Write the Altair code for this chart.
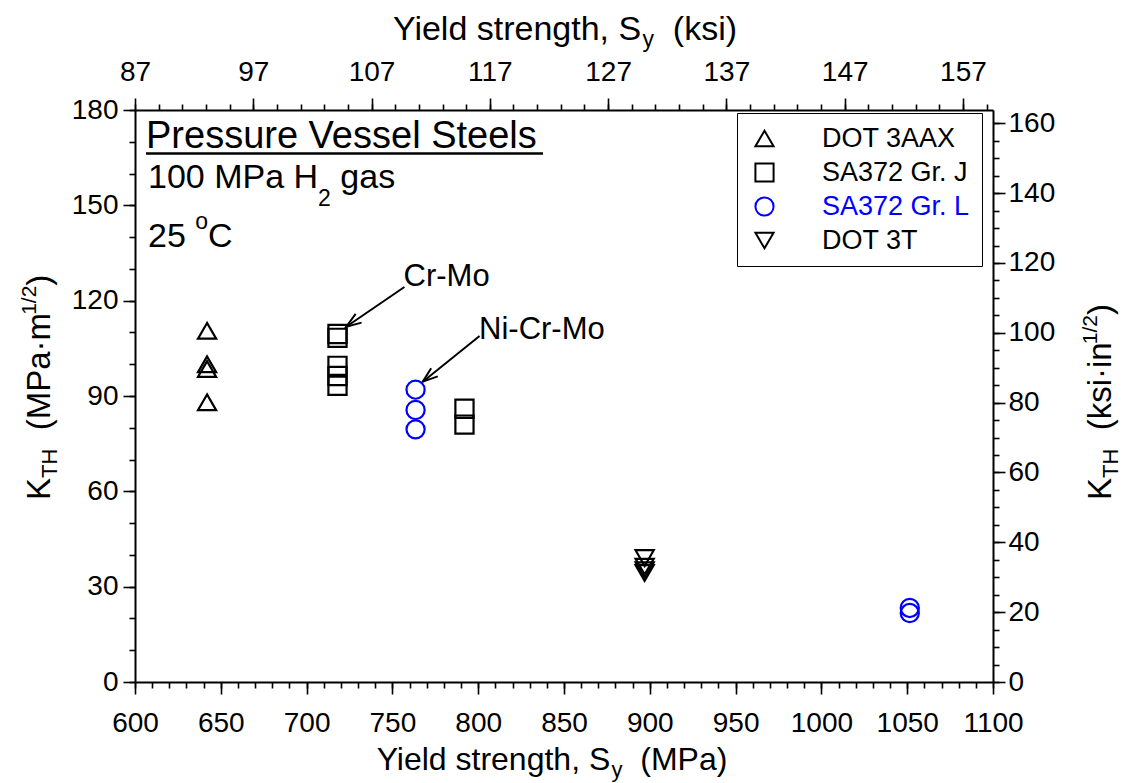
import math
import altair as alt
import pandas as pd

FONT = "Liberation Sans"

# ---------------- data ----------------
materials = ["DOT 3AAX", "SA372 Gr. J", "SA372 Gr. L", "DOT 3T"]

dot3aax_sy = [642, 642, 642, 642]
dot3aax_k = [110.5, 100.0, 98.5, 88.0]

sa372j_sy = [718, 718, 718, 718, 718, 792, 792]
sa372j_k = [109.5, 108.3, 99.5, 96.3, 93.2, 86.0, 81.0]

sa372l_sy = [763.5, 763.5, 763.5, 1051.5, 1051.5]
sa372l_k = [92.0, 85.6, 79.5, 23.3, 21.7]

dot3t_sy = [897, 897, 897, 897]
dot3t_k = [39.0, 36.3, 35.2, 34.3]

# axis tick values
mpa_major = list(range(600, 1101, 50))
mpa_minor = list(range(600, 1101, 10))
ksi_major = list(range(87, 158, 10))
ksi_minor = list(range(87, 160, 2))
kmpa_major = list(range(0, 181, 30))
kmpa_minor = list(range(0, 181, 10))
kksi_major = list(range(0, 161, 20))
kksi_minor = list(range(0, 161, 5))

# annotation arrows (data units): start -> tip
arrow_label = ["Cr-Mo", "Ni-Cr-Mo"]
arrow_x0 = [757.0, 800.8]
arrow_y0 = [124.3, 108.9]
arrow_x1 = [723.1, 767.7]
arrow_y1 = [111.8, 94.5]
label_x = [756.5, 800.5]
label_y = [127.4, 110.8]

KSI_PER_MPA = 1 / 6.894757
KSIIN_PER_MPAM = 1 / 1.098843

# ---------------- layout ----------------
W_PLOT, H_PLOT = 858, 572
PAD = {"left": 135, "top": 110, "right": 1124 - 135 - W_PLOT, "bottom": 783 - 110 - H_PLOT}

X_MPA = alt.Scale(domain=[600, 1100], nice=False, zero=False)
Y_MPA = alt.Scale(domain=[0, 180], nice=False, zero=False)
X_KSI = alt.Scale(domain=[87.0, 1100 * KSI_PER_MPA], nice=False, zero=False)
Y_KSI = alt.Scale(domain=[0, 180 * KSIIN_PER_MPAM], nice=False, zero=False)


def axis(orient, values, size, labels=True, domain=True, pad=5):
    kw = dict(orient=orient, values=values, tickSize=size, labels=labels,
              domain=domain, grid=False, title=None, ticks=True,
              tickColor="black", tickWidth=1.6, domainColor="black", domainWidth=2)
    if labels:
        kw.update(labelFontSize=28, labelFont=FONT, labelColor="black", format="d",
                  labelPadding=pad, labelFlush=False, labelOverlap=False)
    return alt.Axis(**kw)


# ---------------- points ----------------
rows = []
for name, xs, ys in [(materials[0], dot3aax_sy, dot3aax_k),
                     (materials[1], sa372j_sy, sa372j_k),
                     (materials[2], sa372l_sy, sa372l_k),
                     (materials[3], dot3t_sy, dot3t_k)]:
    for a, b in zip(xs, ys):
        rows.append({"Sy": a, "K": b, "mat": name})
pts = pd.DataFrame(rows)

leg = alt.Legend(title=None, orient="none", legendX=602, legendY=3, direction="vertical",
                 strokeColor="black", fillColor="white", padding=12, cornerRadius=0,
                 symbolSize=330, symbolStrokeWidth=2, symbolOffset=2, labelOffset=44,
                 labelFontSize=27, labelFont=FONT,
                 labelColor=alt.ExprRef(expr="datum.value == 'SA372 Gr. L' ? '#0000ff' : 'black'"),
                 rowPadding=6, labelExpr="datum.label + ' '", labelLimit=0)

points = alt.Chart(pts).mark_point(filled=False, size=330, strokeWidth=2.2, opacity=1).encode(
    x=alt.X("Sy:Q", scale=X_MPA, axis=axis("bottom", mpa_major, 12, pad=15)),
    y=alt.Y("K:Q", scale=Y_MPA, axis=axis("left", kmpa_major, 12, pad=5)),
    shape=alt.Shape("mat:N", scale=alt.Scale(domain=materials,
                    range=["triangle-up", "square", "circle", "triangle-down"]), legend=leg),
    color=alt.Color("mat:N", scale=alt.Scale(domain=materials,
                    range=["black", "black", "#0000ff", "black"]), legend=leg),
)


def dummy(vals, **enc):
    return alt.Chart(pd.DataFrame({"v": vals})).mark_point(opacity=0, size=1).encode(**enc)


bottom_minor = dummy(mpa_minor, x=alt.X("v:Q", scale=X_MPA, axis=axis("bottom", mpa_minor, 6, labels=False, domain=False)))
left_minor = dummy(kmpa_minor, y=alt.Y("v:Q", scale=Y_MPA, axis=axis("left", kmpa_minor, 6, labels=False, domain=False)))
top_major = dummy(ksi_major, x=alt.X("v:Q", scale=X_KSI, axis=axis("top", ksi_major, 12, pad=12)))
top_minor = dummy(ksi_minor, x=alt.X("v:Q", scale=X_KSI, axis=axis("top", ksi_minor, 6, labels=False, domain=False)))
right_major = dummy(kksi_major, y=alt.Y("v:Q", scale=Y_KSI, axis=axis("right", kksi_major, 12, pad=3)))
right_minor = dummy(kksi_minor, y=alt.Y("v:Q", scale=Y_KSI, axis=axis("right", kksi_minor, 6, labels=False, domain=False)))

# ---------------- arrows ----------------
pxx = W_PLOT / 500.0
pxy = H_PLOT / 180.0
angs = []
for a0, b0, a1, b1 in zip(arrow_x0, arrow_y0, arrow_x1, arrow_y1):
    dx = (a1 - a0) * pxx
    dy = -(b1 - b0) * pxy
    angs.append(math.degrees(math.atan2(dx, -dy)) % 360)
arr = pd.DataFrame({"lab": arrow_label, "x0": arrow_x0, "y0": arrow_y0,
                    "x1": arrow_x1, "y1": arrow_y1, "ang": angs,
                    "lx": label_x, "ly": label_y})

ax_none = dict(axis=None)
arrow_lines = alt.Chart(arr).mark_rule(color="black", strokeWidth=2).encode(
    x=alt.X("x0:Q", scale=X_MPA, **ax_none), y=alt.Y("y0:Q", scale=Y_MPA, **ax_none),
    x2="x1:Q", y2="y1:Q")
arrow_heads = alt.Chart(arr).mark_point(shape="M-0.7,2L0,0L0.7,2", filled=False, size=225,
                                        strokeWidth=2, color="black", opacity=1).encode(
    x=alt.X("x1:Q", scale=X_MPA, **ax_none), y=alt.Y("y1:Q", scale=Y_MPA, **ax_none),
    angle=alt.Angle("ang:Q", scale=None))
arrow_text = alt.Chart(arr).mark_text(align="left", baseline="middle", font=FONT, fontSize=31,
                                      color="black").encode(
    x=alt.X("lx:Q", scale=X_MPA, **ax_none), y=alt.Y("ly:Q", scale=Y_MPA, **ax_none),
    text="lab:N")

# ---------------- rich text (titles, annotations) ----------------
WID = {" ": 278, "(": 333, ")": 333, "/": 278, "·": 278, ",": 278, ".": 278, "-": 333,
       "a": 556, "b": 556, "c": 500, "d": 556, "e": 556, "f": 278, "g": 556, "h": 556,
       "i": 222, "j": 222, "k": 500, "l": 222, "m": 833, "n": 556, "o": 556, "p": 556,
       "q": 556, "r": 333, "s": 500, "t": 278, "u": 556, "v": 500, "w": 722, "x": 500,
       "y": 500, "z": 500, "A": 667, "B": 667, "C": 722, "D": 722, "E": 667, "F": 611,
       "G": 778, "H": 722, "I": 278, "J": 500, "K": 667, "L": 556, "M": 833, "N": 722,
       "O": 778, "P": 667, "Q": 778, "R": 722, "S": 667, "T": 611, "U": 722, "V": 667,
       "W": 944, "X": 667, "Y": 667, "Z": 611}


def tw(s, fs):
    return sum(WID.get(c, 556) for c in s) * fs / 1000.0


def lay(pieces, x0, y0, ang=0):
    out = []
    adv = 0.0
    for text, fs, rise in pieces:
        lead = len(text) - len(text.lstrip(" "))
        core = text.strip(" ")
        trail = len(text) - lead - len(core)
        adv += tw(" " * lead, fs)
        if ang == 0:
            out.append({"t": core, "px": x0 + adv, "py": y0 - rise, "fs": fs, "ang": 0})
        else:
            out.append({"t": core, "px": x0 - rise, "py": y0 - adv, "fs": fs, "ang": 270})
        adv += tw(core, fs) + tw(" " * trail, fs)
    return out


def centered(pieces, cx, y0):
    total = sum(tw(t, f) for t, f, r in pieces)
    return lay(pieces, cx - total / 2, y0)


pieces = []
pieces += centered([("Yield strength, S", 34, 0), ("y", 23, -7), ("  (ksi)", 34, 0)], 565 - 135, -70)
pieces += centered([("Yield strength, S", 32, 0), ("y", 22, -7), ("  (MPa)", 32, 0)], 552 - 135, 660)
pieces += lay([("K", 33, 0), ("TH", 22, -7), ("  (MPa·m", 33, 0), ("1/2", 21, 14), (")", 33, 0)],
              50 - 135, 500 - 110, 270)
pieces += lay([("K", 33, 0), ("TH", 22, -7), ("  (ksi·in", 33, 0), ("1/2", 21, 14), (")", 33, 0)],
              1111 - 135, 500 - 110, 270)
pieces += lay([("Pressure Vessel Steels", 38, 0)], 11, 38)
pieces += lay([("100 MPa H", 34, 0), ("2", 23, -18), (" gas", 34, 0)], 13, 78)
pieces += lay([("25 ", 34, 0), ("o", 23, 18), ("C", 34, 0)], 13, 137)
txt = pd.DataFrame(pieces)

rich = alt.Chart(txt).mark_text(align="left", baseline="alphabetic", font=FONT, color="black").encode(
    x=alt.X("px:Q", scale=None, axis=None),
    y=alt.Y("py:Q", scale=None, axis=None),
    text="t:N",
    size=alt.Size("fs:Q", scale=None, legend=None),
    angle=alt.Angle("ang:Q", scale=None),
)

underline = alt.Chart(pd.DataFrame({"a": [0]})).mark_rule(color="black", strokeWidth=2.5).encode(
    x=alt.value(11), x2=alt.value(408), y=alt.value(43.5))

chart = alt.layer(
    bottom_minor, left_minor, top_minor, right_minor, top_major, right_major,
    arrow_lines, arrow_heads, arrow_text, rich, underline, points,
).resolve_scale(
    x="independent", y="independent"
).properties(
    width=W_PLOT, height=H_PLOT,
    autosize=alt.AutoSizeParams(type="none"),
    padding=PAD,
    background="white",
).configure_view(strokeWidth=0)

chart.save("out.html", embed_options={"renderer": "svg", "actions": False})
